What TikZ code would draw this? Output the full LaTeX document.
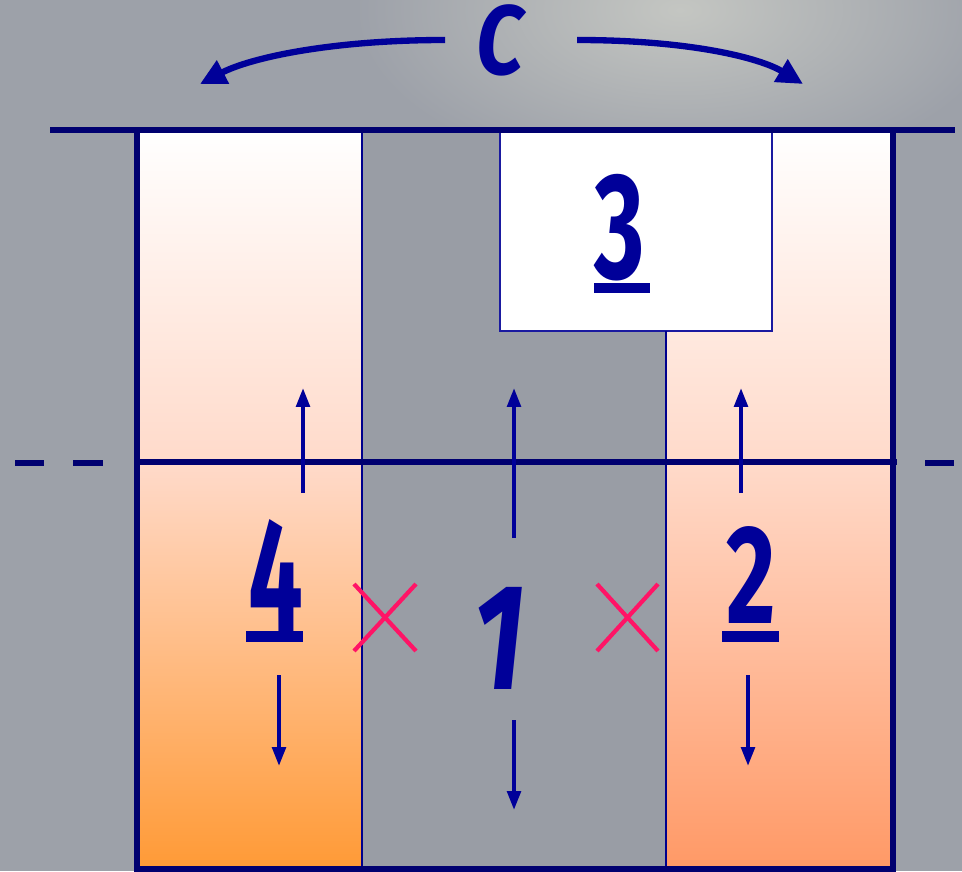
\documentclass[tikz,border=0pt]{standalone}
\usepackage{fontspec}
\newfontfamily\hand{Fira Sans}
\usetikzlibrary{arrows.meta}
\definecolor{bg}{HTML}{9DA1A9}
\definecolor{glow}{HTML}{C4C6C2}
\definecolor{midgray}{HTML}{999DA5}
\definecolor{navy}{HTML}{000070}
\definecolor{inkblue}{HTML}{000099}
\definecolor{boxblue}{HTML}{1A1AA0}
\definecolor{pinkx}{HTML}{FF1466}
\definecolor{peachA}{HTML}{FFF4EE}
\definecolor{peachB}{HTML}{FFDACA}
\definecolor{peachC}{HTML}{FFB888}
\definecolor{orangeL}{HTML}{FF9A36}
\definecolor{peachD}{HTML}{FFB59A}
\definecolor{salmonR}{HTML}{FF9966}
\tikzset{
  thickline/.style={draw=navy, line width=3pt},
  thinline/.style={draw=navy!80!blue, line width=1.1pt},
  arr/.style={draw=inkblue, line width=2.3pt, -{Triangle[width=0.27cm,length=0.38cm]}},
  bigarr/.style={draw=inkblue, line width=3.6pt, -{Triangle[width=0.5cm,length=0.52cm]}},
  crossline/.style={draw=pinkx, line width=2.4pt},
  digit/.style={text=inkblue, anchor=base, inner sep=0pt},
  uline/.style={fill=inkblue},
}
\begin{document}
\begin{tikzpicture}[x=0.02cm,y=-0.02cm]
\useasboundingbox (0,0) rectangle (962,871);
\fill[bg] (0,0) rectangle (962,871);
\begin{scope}
  \clip (0,0) rectangle (962,871);
  \shade[inner color=glow, outer color=bg] (680,10) ellipse (6.5cm and 3.4cm);
\end{scope}
% columns
\fill[midgray] (362,130) rectangle (666,869);
\shade[top color=white, middle color=peachA, bottom color=peachB] (137,130) rectangle (362,462);
\shade[top color=peachB, middle color=peachC, bottom color=orangeL] (137,462) rectangle (362,869);
\shade[top color=white, middle color=peachA, bottom color=peachB] (666,130) rectangle (893,462);
\shade[top color=peachB, middle color=peachD, bottom color=salmonR] (666,462) rectangle (893,869);
% box 3
\draw[draw=boxblue, line width=1.1pt, fill=white] (500,131) rectangle (772,331);
% thin dividers
\draw[thinline] (362,130) -- (362,869);
\draw[thinline] (666,331) -- (666,869);
% thick frame
\draw[thickline] (137,130) rectangle (893,869);
\draw[thickline] (50,130) -- (955,130);
\draw[thickline] (137,462) -- (897,462);
\draw[thickline] (15,463) -- (44,463);
\draw[thickline] (73,463) -- (103,463);
\draw[thickline] (925,463) -- (954,463);
% labels
\node[digit, font=\hand\bfseries\fontsize{92}{96}\selectfont] (n4) at (276,631) {\scalebox{0.6}[1]{4}};
\fill[uline] (246,631) rectangle (303,642);
\node[digit, font=\hand\bfseries\fontsize{80}{84}\selectfont] (n2) at (751,623) {\scalebox{0.68}[1]{2}};
\fill[uline] (722,631) rectangle (779,642);
\node[digit, font=\hand\bfseries\fontsize{86}{90}\selectfont] (n3) at (620,278) {\scalebox{0.64}[1]{3}};
\fill[uline] (594,283) rectangle (650,293);
\node[digit, font=\hand\itshape\fontsize{86}{90}\selectfont] (n1) at (499,689) {\scalebox{0.75}[1]{\bfseries 1}};
\node[digit, font=\hand\bfseries\itshape\fontsize{56}{60}\selectfont] (nc) at (500,75) {\scalebox{0.85}[1]{C}};
% up arrows
\coordinate (u4a) at (303,493); \coordinate (u4b) at (303,388);
\coordinate (u1a) at (514,538); \coordinate (u1b) at (514,388);
\coordinate (u2a) at (741,493); \coordinate (u2b) at (741,388);
\draw[arr] (u4a) -- (u4b);
\draw[arr] (u1a) -- (u1b);
\draw[arr] (u2a) -- (u2b);
% down arrows
\coordinate (d4a) at (279,675); \coordinate (d4b) at (279,766);
\coordinate (d1a) at (514,720); \coordinate (d1b) at (514,810);
\coordinate (d2a) at (748,675); \coordinate (d2b) at (748,766);
\draw[arr] (d4a) -- (d4b);
\draw[arr] (d1a) -- (d1b);
\draw[arr] (d2a) -- (d2b);
% crosses
\coordinate (xl1) at (354,584); \coordinate (xl2) at (416,651);
\coordinate (xl3) at (354,651); \coordinate (xl4) at (416,584);
\draw[crossline] (xl1) -- (xl2);
\draw[crossline] (xl3) -- (xl4);
\coordinate (xr1) at (597,584); \coordinate (xr2) at (658,651);
\coordinate (xr3) at (597,651); \coordinate (xr4) at (658,584);
\draw[crossline] (xr1) -- (xr2);
\draw[crossline] (xr3) -- (xr4);
% top curved arrows
\coordinate (cl0) at (445,40); \coordinate (cl1) at (200,84);
\coordinate (cr0) at (577,40); \coordinate (cr1) at (803,84);
\draw[bigarr] (cl0) .. controls (330,40) and (250,58) .. (cl1);
\draw[bigarr] (cr0) .. controls (690,40) and (760,58) .. (cr1);
\end{tikzpicture}
\end{document}
